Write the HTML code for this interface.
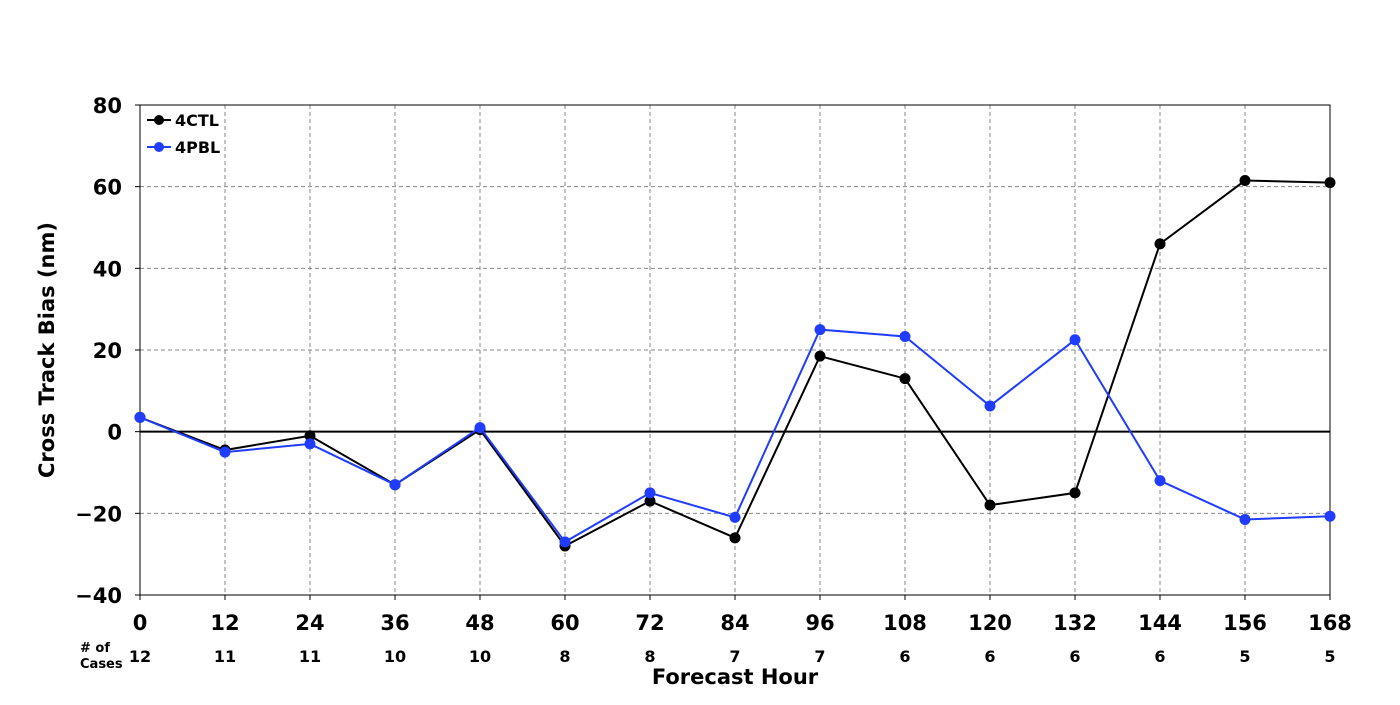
<!DOCTYPE html>
<html><head><meta charset="utf-8"><style>
body{margin:0;background:#fff;}
svg text{font-family:"DejaVu Sans","Liberation Sans",sans-serif;font-weight:bold;}
</style></head><body>
<svg id="chart" width="1400" height="700" xmlns="http://www.w3.org/2000/svg">
<g id="grid"></g>
<g id="axes"></g>
<g id="series"></g>
<g>
<line x1="147" y1="120" x2="171" y2="120" stroke="#000" stroke-width="2"/><circle cx="159" cy="120" r="5" fill="#000"/>
<text x="175" y="126" font-size="16">4CTL</text>
<line x1="147" y1="147" x2="171" y2="147" stroke="#1f3cff" stroke-width="2"/><circle cx="159" cy="147" r="5" fill="#1f3cff"/>
<text x="175" y="153" font-size="16">4PBL</text>
</g>
<text x="80" y="652" font-size="13">
<tspan x="80">#&#160;of</tspan><tspan x="80" dy="16">Cases</tspan></text>
<text x="735" y="684" font-size="21" text-anchor="middle">Forecast Hour</text>
<text transform="translate(54,350) rotate(-90)" font-size="21" text-anchor="middle">Cross Track Bias (nm)</text>
</svg>
<script>
const hours=[0,12,24,36,48,60,72,84,96,108,120,132,144,156,168];
const cases=[12,11,11,10,10,8,8,7,7,6,6,6,6,5,5];
const ctl=[3.5,-4.5,-1,-13,0.5,-28,-17,-26,18.5,13,-18,-15,46,61.5,61];
const pbl=[3.5,-5,-3,-13,1,-27,-15,-21,25,23.3,6.3,22.5,-12,-21.5,-20.7];
const yTicks=[-40,-20,0,20,40,60,80];
const NS="http://www.w3.org/2000/svg";
const X0=140,X1=1330,Y0=595,Y1=105;
const xs=h=>X0+(h-0)/(168)*(X1-X0);
const ys=v=>Y0-(v+40)/120*(Y0-Y1);
function mk(tag,attrs,parent){const e=document.createElementNS(NS,tag);for(const k in attrs)e.setAttribute(k,attrs[k]);parent.appendChild(e);return e;}
const grid=document.getElementById('grid'),axes=document.getElementById('axes'),series=document.getElementById('series');
hours.forEach((h,i)=>{
 if(i>0&&i<hours.length-1){const l=mk('line',{x1:xs(h),x2:xs(h),y1:Y1,y2:Y0,stroke:'#888','stroke-dasharray':'4,3','stroke-width':1},grid);
 
 }
 const tk=mk('line',{x1:xs(h),x2:xs(h),y1:Y0,y2:Y0+5,stroke:'#000'},axes);
 
 
 const t=mk('text',{x:xs(h),y:630,'font-size':21,'text-anchor':'middle'},axes);t.textContent=h;
 
 
 const c=mk('text',{x:xs(h),y:662,'font-size':16,'text-anchor':'middle'},axes);c.textContent=cases[i];
 
 
});
yTicks.forEach(v=>{
 if(v>-40&&v<80&&v!==0){const l=mk('line',{x1:X0,x2:X1,y1:ys(v),y2:ys(v),stroke:'#888','stroke-dasharray':'4,3','stroke-width':1},grid);
 
 }
 const tk=mk('line',{x1:X0-5,x2:X0,y1:ys(v),y2:ys(v),stroke:'#000'},axes);
 
 
 const t=mk('text',{x:X0-18,y:ys(v)+8,'font-size':21,'text-anchor':'end'},axes);t.textContent=v<0?'\u2212'+(-v):v;
 
 
});
const z=mk('line',{x1:X0,x2:X1,y1:ys(0),y2:ys(0),stroke:'#000','stroke-width':2},axes);


const fr=mk('rect',{x:X0,y:Y1,width:X1-X0,height:Y0-Y1,fill:'none',stroke:'#000','stroke-width':1},axes);


function draw(vals,color,name){
 const p=mk('polyline',{points:vals.map((v,i)=>xs(hours[i])+','+ys(v)).join(' '),fill:'none',stroke:color,'stroke-width':2},series);
 
 
 vals.forEach((v,i)=>{const c=mk('circle',{cx:xs(hours[i]),cy:ys(v),r:5.5,fill:color},series);
 
 });
}
draw(ctl,'#000','4ctl');
draw(pbl,'#1f3cff','4pbl');
</script>
</body></html>
